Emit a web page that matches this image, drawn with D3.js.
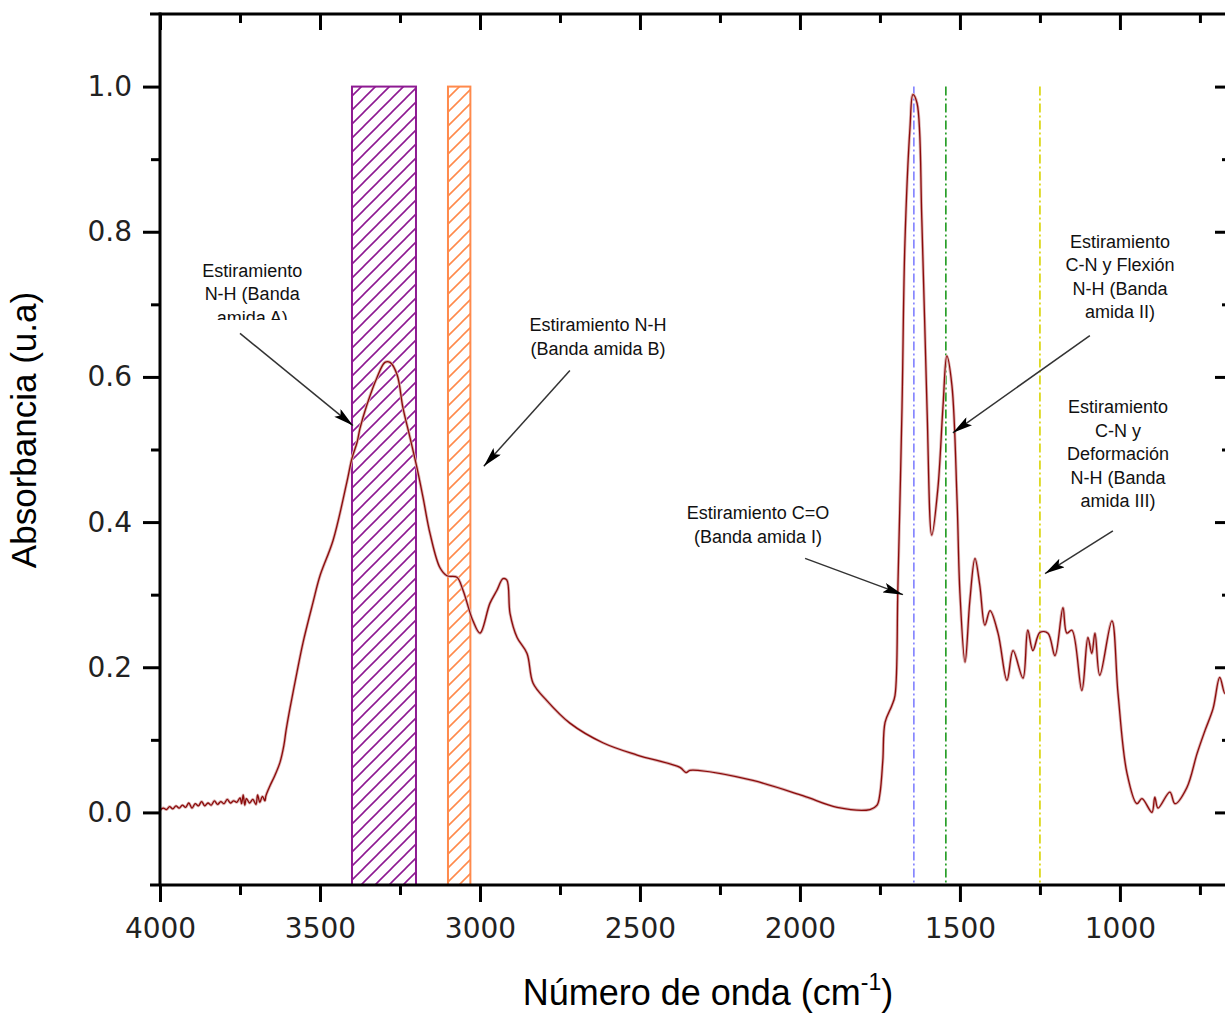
<!DOCTYPE html>
<meta charset="utf-8">
<style>
body { margin: 0; background: #fff; }
.tick text { font-family: "DejaVu Sans", sans-serif; font-size: 28px; fill: #222; }
.tick line { stroke: #000; stroke-width: 3; }
.frame { stroke: #000; stroke-width: 3; }
.note { font-family: "Liberation Sans", Arial, sans-serif; font-size: 18px; fill: #111; }
.title { font-family: "Liberation Sans", Arial, sans-serif; font-size: 35px; fill: #000; }
</style>
<svg width="1225" height="1014"></svg>
<script src="https://d3js.org/d3.v7.min.js"></script>
<script>

// spectrum (wavenumber in cm-1, absorbance)
var wavenumber = [4000, 3990, 3980, 3970, 3960, 3950, 3940, 3930, 3920, 3910, 3900, 3890, 3880, 3870, 3860, 3850, 3840, 3830,
  3820, 3810, 3800, 3790, 3780, 3770, 3760, 3750, 3745, 3740, 3735, 3730, 3720, 3710, 3700, 3695, 3688, 3680, 3672,
  3669, 3656, 3641, 3625, 3613, 3606, 3594, 3572, 3553, 3522, 3500, 3459, 3416, 3400, 3384, 3375, 3353, 3322, 3297, 3281,
  3259, 3241, 3219, 3197, 3178, 3156, 3125, 3103, 3072, 3053, 3022, 3000, 2969, 2947, 2928, 2916, 2906, 2884, 2853, 2834,
  2791, 2719, 2616, 2509, 2375, 2356, 2344, 2319, 2147, 1991, 1884, 1781, 1759, 1750, 1741, 1734, 1713, 1703, 1694, 1681,
  1672, 1656, 1647, 1634, 1619, 1603, 1588, 1569, 1553, 1541, 1525, 1509, 1500, 1484, 1469, 1453, 1438, 1422, 1406, 1381,
  1353, 1334, 1303, 1288, 1272, 1250, 1225, 1203, 1178, 1166, 1150, 1119, 1100, 1088, 1078, 1063, 1025, 1006, 978, 947,
  931, 900, 891, 881, 844, 828, 791, 759, 734, 709, 688, 672, 658];
var absorbance = [0.003, 0.006, 0.004, 0.008, 0.005, 0.009, 0.006, 0.010, 0.007, 0.013, 0.006, 0.012, 0.009, 0.015, 0.009, 0.013, 0.010, 0.016,
  0.011, 0.015, 0.012, 0.018, 0.013, 0.016, 0.014, 0.020, 0.012, 0.024, 0.010, 0.019, 0.013, 0.018, 0.011, 0.024, 0.014, 0.022, 0.016,
  0.023, 0.037, 0.051, 0.069, 0.092, 0.113, 0.143, 0.193, 0.234, 0.289, 0.326, 0.375, 0.455, 0.488, 0.510, 0.529, 0.562, 0.599, 0.620, 0.620,
  0.603, 0.558, 0.517, 0.475, 0.434, 0.384, 0.337, 0.326, 0.324, 0.306, 0.264, 0.247, 0.288, 0.306, 0.322, 0.320, 0.274, 0.241, 0.219, 0.178,
  0.154, 0.123, 0.096, 0.079, 0.062, 0.055, 0.058, 0.058, 0.044, 0.023, 0.007, 0.004, 0.010, 0.026, 0.072, 0.124, 0.147, 0.161, 0.309, 0.559,
  0.784, 0.944, 0.989, 0.977, 0.815, 0.559, 0.382, 0.446, 0.559, 0.629, 0.588, 0.430, 0.302, 0.207, 0.292, 0.350, 0.313, 0.258, 0.278, 0.247,
  0.182, 0.223, 0.185, 0.251, 0.223, 0.248, 0.247, 0.216, 0.282, 0.247, 0.251, 0.168, 0.241, 0.219, 0.247, 0.189, 0.264, 0.164, 0.054, 0.012,
  0.019, 0.000, 0.021, 0.006, 0.028, 0.012, 0.034, 0.081, 0.113, 0.143, 0.186, 0.164, 0.182];

var xMajor = [4000, 3500, 3000, 2500, 2000, 1500, 1000];
var xMinor = [3750, 3250, 2750, 2250, 1750, 1250, 750];
var yMajor = [0.0, 0.2, 0.4, 0.6, 0.8, 1.0];
var yMinor = [0.1, 0.3, 0.5, 0.7, 0.9];

// hatched bands [from, to] and marker lines
var bands = [[3400, 3200], [3100, 3030]];
var bandColors = ["#8e1a92", "#ff8a4c"];
var markers = [1644, 1544, 1250];
var markerColors = ["#8080ff", "#1e9a1e", "#d8d400"];

// annotations: text lines, text anchor [wn, abs], arrow tail and head [wn, abs]
var noteLines = [
  ["Estiramiento", "N-H (Banda", "amida A)"],
  ["Estiramiento N-H", "(Banda amida B)"],
  ["Estiramiento C=O", "(Banda amida I)"],
  ["Estiramiento", "C-N y Flexión", "N-H (Banda", "amida II)"],
  ["Estiramiento", "C-N y", "Deformación", "N-H (Banda", "amida III)"]
];
var noteAt = [[3712, 0.738], [2631, 0.663], [2131, 0.404], [1000, 0.778], [1006, 0.550]];
var arrowFrom = [[3750, 0.660], [2719, 0.609], [1984, 0.350], [1094, 0.657], [1022, 0.388]];
var arrowTo = [[3397, 0.533], [2988, 0.477], [1678, 0.300], [1522, 0.523], [1234, 0.329]];

var svg = d3.select("svg"),
    plotLeft = 160, plotRight = 1230, plotTop = 14, plotBottom = 885;

var x = d3.scaleLinear().domain([4000, 656]).range([plotLeft, plotRight]);
var y = d3.scaleLinear().domain([-0.1, 1.1]).range([plotBottom, plotTop]);

var defs = svg.append("defs");
bandColors.forEach(function(c, i) {
  var p = defs.append("pattern")
      .attr("id", "hatch" + i)
      .attr("patternUnits", "userSpaceOnUse")
      .attr("width", 14).attr("height", 14);
  p.append("path")
      .attr("d", "M-1,15 L15,-1 M-4,4 L4,-4 M10,18 L18,10")
      .attr("stroke", c).attr("stroke-width", 1.6);
});
defs.append("clipPath").attr("id", "plot")
  .append("rect").attr("x", plotLeft).attr("y", plotTop)
    .attr("width", plotRight - plotLeft).attr("height", plotBottom - plotTop);
defs.append("clipPath").attr("id", "cutA")
  .append("rect").attr("x", 0).attr("y", 0).attr("width", 1225).attr("height", 320);
defs.append("marker")
    .attr("id", "head")
    .attr("viewBox", "0 0 20 10")
    .attr("refX", 20).attr("refY", 5)
    .attr("markerWidth", 20).attr("markerHeight", 10)
    .attr("markerUnits", "userSpaceOnUse")
    .attr("orient", "auto")
  .append("path").attr("d", "M0,0 L20,5 L0,10 L4,5 Z").attr("fill", "#000");

// bands
svg.append("g").selectAll("rect")
  .data(bands)
  .enter().append("rect")
    .attr("x", function(d) { return x(d[0]); })
    .attr("width", function(d) { return x(d[1]) - x(d[0]); })
    .attr("y", y(1.0))
    .attr("height", y(-0.1) - y(1.0))
    .attr("fill", function(d, i) { return "url(#hatch" + i + ")"; })
    .attr("stroke", function(d, i) { return bandColors[i]; })
    .attr("stroke-width", 2);

// marker lines
svg.append("g").selectAll("line")
  .data(markers)
  .enter().append("line")
    .attr("x1", function(d) { return x(d); })
    .attr("x2", function(d) { return x(d); })
    .attr("y1", y(1.0))
    .attr("y2", y(-0.1))
    .attr("stroke", function(d, i) { return markerColors[i]; })
    .attr("stroke-width", 1.6)
    .attr("stroke-dasharray", "9,3,2,3");

// spectrum
var line = d3.line()
    .x(function(d) { return x(d); })
    .y(function(d, i) { return y(absorbance[i]); })
    .curve(d3.curveCatmullRom.alpha(0.5));

svg.append("path")
    .attr("clip-path", "url(#plot)")
    .attr("d", line(wavenumber))
    .attr("fill", "none")
    .attr("stroke", "#dcb4b4")
    .attr("stroke-width", 3);
svg.append("path")
    .attr("clip-path", "url(#plot)")
    .attr("d", line(wavenumber))
    .attr("fill", "none")
    .attr("stroke", "#8b0a0a")
    .attr("stroke-width", 1.3);

// annotations
var notes = svg.append("g");
noteLines.forEach(function(lines, i) {
  var t = notes.append("text")
      .attr("class", "note")
      .attr("text-anchor", "middle")
      .attr("x", x(noteAt[i][0]))
      .attr("y", y(noteAt[i][1]));
  if (i === 0) t.attr("clip-path", "url(#cutA)");
  lines.forEach(function(s, j) {
    t.append("tspan")
        .attr("x", x(noteAt[i][0]))
        .attr("dy", j === 0 ? 0 : 23.5)
        .text(s);
  });
  notes.append("line")
      .attr("x1", x(arrowFrom[i][0])).attr("y1", y(arrowFrom[i][1]))
      .attr("x2", x(arrowTo[i][0])).attr("y2", y(arrowTo[i][1]))
      .attr("stroke", "#333")
      .attr("stroke-width", 1.5)
      .attr("marker-end", "url(#head)");
});

// axes
function noDomain(g) { g.select(".domain").remove(); }

svg.append("g")
    .attr("transform", "translate(0," + plotBottom + ")")
    .call(d3.axisBottom(x).tickValues(xMajor).tickSize(17).tickPadding(16).tickFormat(d3.format("d")))
    .call(noDomain);
svg.append("g")
    .attr("transform", "translate(0," + plotBottom + ")")
    .call(d3.axisBottom(x).tickValues(xMinor).tickSize(10).tickFormat(""))
    .call(noDomain);
svg.append("g")
    .attr("transform", "translate(0," + plotTop + ")")
    .call(d3.axisBottom(x).tickValues(xMajor).tickSize(16).tickFormat(""))
    .call(noDomain);
svg.append("g")
    .attr("transform", "translate(0," + plotTop + ")")
    .call(d3.axisBottom(x).tickValues(xMinor).tickSize(9).tickFormat(""))
    .call(noDomain);

svg.append("g")
    .attr("transform", "translate(" + plotLeft + ",0)")
    .call(d3.axisLeft(y).tickValues(yMajor).tickSize(17).tickPadding(11).tickFormat(d3.format(".1f")))
    .call(noDomain);
svg.append("g")
    .attr("transform", "translate(" + plotLeft + ",0)")
    .call(d3.axisLeft(y).tickValues(yMinor).tickSize(9).tickFormat(""))
    .call(noDomain);
svg.append("g")
    .attr("transform", "translate(" + plotRight + ",0)")
    .call(d3.axisLeft(y).tickValues(yMajor).tickSize(15).tickFormat(""))
    .call(noDomain);
svg.append("g")
    .attr("transform", "translate(" + plotRight + ",0)")
    .call(d3.axisLeft(y).tickValues(yMinor).tickSize(8).tickFormat(""))
    .call(noDomain);

svg.append("line").attr("class", "frame").attr("x1", plotLeft - 10).attr("x2", plotRight).attr("y1", plotTop).attr("y2", plotTop);
svg.append("line").attr("class", "frame").attr("x1", plotLeft - 10).attr("x2", plotRight).attr("y1", plotBottom).attr("y2", plotBottom);
svg.append("line").attr("class", "frame").attr("x1", plotLeft).attr("x2", plotLeft).attr("y1", plotTop - 1.5).attr("y2", plotBottom);
svg.append("line").attr("class", "frame").attr("x1", plotRight).attr("x2", plotRight).attr("y1", plotTop - 1.5).attr("y2", plotBottom);

// titles
svg.append("text")
    .attr("class", "title")
    .attr("text-anchor", "middle")
    .attr("transform", "translate(36,430) rotate(-90)")
    .text("Absorbancia (u.a)");

var xt = svg.append("text")
    .attr("class", "title")
    .attr("text-anchor", "middle")
    .attr("x", 708)
    .attr("y", 1005)
    .style("font-size", "36px");
xt.append("tspan").text("Número de onda (cm");
xt.append("tspan").attr("dy", -15).style("font-size", "23px").text("-1");
xt.append("tspan").attr("dy", 15).text(")");

</script>
